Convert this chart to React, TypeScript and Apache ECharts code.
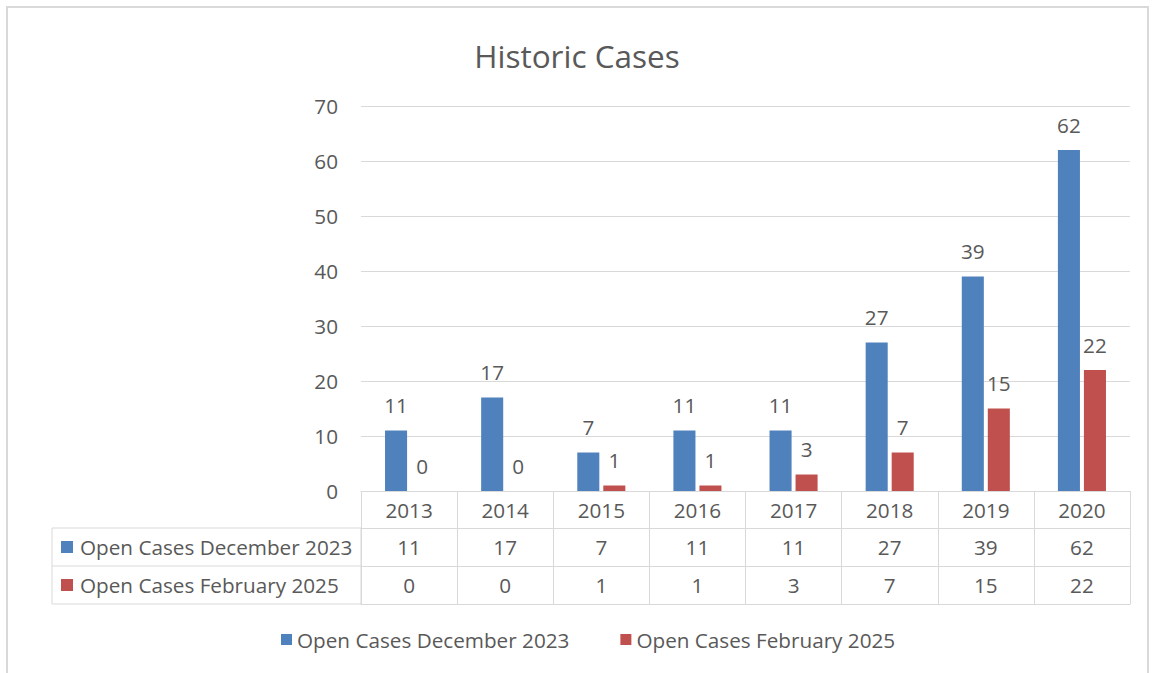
import React, { useEffect, useRef } from "react";
import * as echarts from "echarts";

const categories = ["2013", "2014", "2015", "2016", "2017", "2018", "2019", "2020"];
const seriesNames = ["Open Cases December 2023", "Open Cases February 2025"];
const dec2023 = [11, 17, 7, 11, 11, 27, 39, 62];
const feb2025 = [0, 0, 1, 1, 3, 7, 15, 22];
const yTicks = { min: 0, max: 70, interval: 10 };

const FONT = "Open Sans";
const TXT = "#595959";
const LINE = "#d9d9d9";
const BLUE = "#4f81bd";
const RED = "#c0504d";
const FS = 20.7;

export default function App() {
  const ref = useRef<HTMLDivElement>(null);
  useEffect(() => {
    if (!ref.current) return;
    const chart = echarts.init(ref.current, undefined, { renderer: "svg" });
    const labelCommon = {
      fontFamily: FONT,
      fontSize: FS,
      color: TXT,
      margin: 0,
      lineHeight: 37,
      interval: 0,
    };
    const tableAxis = (offset: number, data: string[], showLabel: boolean) => ({
      type: "category",
      gridIndex: 0,
      position: "bottom",
      offset,
      data,
      axisLine: { show: true, lineStyle: { color: LINE, width: 1 } },
      axisTick: { show: false },
      axisLabel: { ...labelCommon, show: showLabel },
      splitLine: { show: false },
    });
    const colors = [BLUE, RED];
    chart.setOption({
      animation: false,
      textStyle: { fontFamily: FONT },
      title: {
        text: "Historic Cases",
        left: 572,
        top: 34,
        textAlign: "center",
        textStyle: { fontFamily: FONT, fontSize: 31.5, fontWeight: "normal", color: TXT },
      },
      legend: {
        left: 281,
        top: 629,
        itemWidth: 11,
        itemHeight: 11,
        itemGap: 51,
        icon: "rect",
        padding: 0,
        textStyle: { fontFamily: FONT, fontSize: FS, color: TXT },
        data: seriesNames,
      },
      grid: { left: 361, right: 25, top: 106, bottom: 182, containLabel: false },
      xAxis: [
        {
          type: "category",
          data: categories,
          axisLine: { show: true, lineStyle: { color: LINE, width: 1 } },
          axisTick: { show: true, length: 113, lineStyle: { color: LINE, width: 1 } },
          axisLabel: labelCommon,
        },
        tableAxis(37, dec2023.map(String), true),
        tableAxis(75, feb2025.map(String), true),
        tableAxis(113, categories, false),
      ],
      yAxis: {
        type: "value",
        min: yTicks.min,
        max: yTicks.max,
        interval: yTicks.interval,
        axisLine: { show: false },
        axisTick: { show: false },
        axisLabel: { fontFamily: FONT, fontSize: FS, color: TXT, margin: 23 },
        splitLine: { lineStyle: { color: LINE, width: 1 } },
      },
      series: [dec2023, feb2025].map((d, i) => ({
        name: seriesNames[i],
        type: "bar",
        data: d,
        barCategoryGap: "50%",
        barGap: "18%",
        itemStyle: { color: colors[i] },
        label: {
          show: true,
          position: "top",
          distance: 15,
          fontFamily: FONT,
          fontSize: FS,
          color: TXT,
        },
      })),
      graphic: [
        {
          type: "rect",
          shape: { x: 7, y: 7, width: 1141, height: 700 },
          style: { fill: "none", stroke: LINE, lineWidth: 2 },
          silent: true,
        },
        {
          type: "rect",
          shape: { x: 52, y: 528, width: 309, height: 76 },
          style: { fill: "none", stroke: LINE, lineWidth: 1 },
          silent: true,
        },
        {
          type: "line",
          shape: { x1: 52, y1: 566, x2: 361, y2: 566 },
          style: { stroke: LINE, lineWidth: 1 },
          silent: true,
        },
        ...seriesNames.flatMap((name, i) => [
          {
            type: "rect",
            shape: { x: 61, y: 541 + i * 38, width: 12, height: 12 },
            style: { fill: colors[i] },
            silent: true,
          },
          {
            type: "text",
            x: 80,
            y: 547 + i * 38,
            style: {
              text: name,
              fontFamily: FONT,
              fontSize: FS,
              fill: TXT,
              verticalAlign: "middle",
              align: "left",
            },
            silent: true,
          },
        ]),
      ],
    });
    return () => chart.dispose();
  }, []);
  return (
    <div
      ref={ref}
      style={{ position: "fixed", left: 0, top: 0, width: 1155, height: 673, background: "#fff" }}
    />
  );
}
